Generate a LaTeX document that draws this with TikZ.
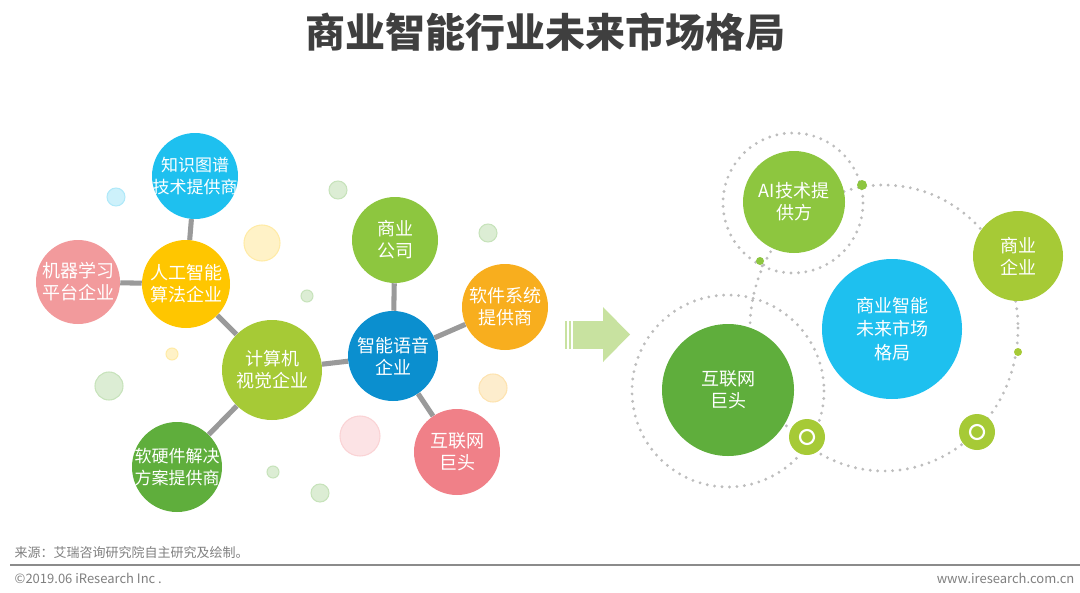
\documentclass[tikz,border=0pt]{standalone}
\usepackage{fontspec}
\setmainfont{Noto Sans CJK SC}
\definecolor{skyC}{HTML}{1EC0EF}
\definecolor{blueC}{HTML}{0B8FCF}
\definecolor{goldC}{HTML}{FFC600}
\definecolor{orangeC}{HTML}{F8AE1E}
\definecolor{pinkC}{HTML}{F29A9C}
\definecolor{redC}{HTML}{F08088}
\definecolor{limeC}{HTML}{A6CA36}
\definecolor{leafC}{HTML}{8DC63F}
\definecolor{grassC}{HTML}{5FAE3C}
\definecolor{arrowC}{HTML}{C8E2A0}
\definecolor{titleC}{HTML}{3F3F3F}
\definecolor{noteC}{HTML}{7F7F7F}
\definecolor{linkC}{HTML}{9A9A9A}
\definecolor{dotC}{HTML}{BDBDBD}
\tikzset{
  bub/.style 2 args={circle,fill=#1,text=white,inner sep=-14pt,align=center,
    minimum size=#2,font=\fontsize{13.5}{16.5}\selectfont},
  small/.style={font=\fontsize{12.75}{16.5}\selectfont},
  link/.style={draw=linkC,line width=3.8pt},
  dots/.style={draw=dotC,line width=2.4pt,line cap=round,dash pattern=on 0pt off 5.6pt},
  fade/.style={fill=#1!22,draw=#1!35,line width=0.8pt},
  note/.style={text=noteC,font=\fontsize{9.75}{12}\selectfont},
}
\begin{document}
\begin{tikzpicture}[x=0.75pt,y=-0.75pt]
\useasboundingbox (0,0) rectangle (1080,592);
% title
\node[text=titleC,font=\fontsize{30}{34}\selectfont\bfseries] (title) at (545,32) {商业智能行业未来市场格局};
% faint bubbles
\path[fade=skyC] (116,197) circle (9);
\path[fade=goldC] (262,243) circle (18);
\path[fade=grassC] (338,190) circle (9);
\path[fade=grassC] (488,233) circle (9);
\path[fade=grassC] (307,296) circle (6);
\path[fade=goldC] (172,354) circle (6);
\path[fade=grassC] (109,386) circle (14);
\path[fade=redC] (360,436) circle (20);
\path[fade=orangeC] (493,388) circle (14);
\path[fade=grassC] (273,472) circle (6);
\path[fade=grassC] (320,493) circle (9);
% left network
\node[bub={skyC}{64.5pt},small] (kg) at (195,176) {知识图谱\\技术提供商};
\node[bub={goldC}{66pt}] (ai) at (186,284) {人工智能\\算法企业};
\node[bub={pinkC}{63pt}] (ml) at (78,282) {机器学习\\平台企业};
\node[bub={limeC}{75pt}] (cv) at (272,370) {计算机\\视觉企业};
\node[bub={grassC}{67.5pt},small] (hw) at (177,467) {软硬件解决\\方案提供商};
\node[bub={leafC}{64.5pt}] (biz) at (395,240) {商业\\公司};
\node[bub={blueC}{67.5pt}] (voice) at (393,356) {智能语音\\企业};
\node[bub={orangeC}{64.5pt}] (soft) at (505,307) {软件系统\\提供商};
\node[bub={redC}{64.5pt}] (net) at (457,452) {互联网\\巨头};
\draw[link] (kg) -- (ai);
\draw[link] (ml) -- (ai);
\draw[link] (ai) -- (cv);
\draw[link] (cv) -- (hw);
\draw[link] (cv) -- (voice);
\draw[link] (voice) -- (biz);
\draw[link] (voice) -- (soft);
\draw[link] (voice) -- (net);
% arrow
\fill[arrowC] (565,321) rectangle (567,349);
\fill[arrowC] (569,321) rectangle (571,349);
\fill[arrowC] (573,321) rectangle (603,349);
\fill[arrowC] (603,307) -- (630,334.5) -- (603,362) -- cycle;
% right picture
\draw[dots] (884,328) ellipse [x radius=134,y radius=143];
\draw[dots] (793,203) circle (70);
\draw[dots] (728,391) circle (96);
\node[bub={leafC}{76.5pt}] (tech) at (794,202) {AI技术提\\供方};
\node[bub={limeC}{67.5pt}] (corp) at (1018,256) {商业\\企业};
\node[bub={skyC}{105pt},font=\fontsize{13.5}{17.5}\selectfont] (core) at (892,329) {商业智能\\未来市场\\格局};
\node[bub={grassC}{99pt}] (giant) at (728,390) {互联网\\巨头};
\fill[leafC] (862,185) circle (5);
\fill[leafC] (760,261) circle (4);
\fill[limeC] (1018,352) circle (4);
\foreach \rx/\ry [count=\i] in {807/437,977/432}{
  \fill[limeC] (\rx,\ry) circle (18);
  \draw[white,line width=1.6pt] (\rx,\ry) circle (7);
}
% footer
\node[note,anchor=west] (src) at (10,553) {来源：艾瑞咨询研究院自主研究及绘制。};
\draw[draw=linkC!90!black,line width=1.5pt] (10,565) -- (1080,565);
\node[note,anchor=west] (copy) at (10,578) {©2019.06 iResearch Inc .};
\node[note,anchor=east] (site) at (1079,578) {www.iresearch.com.cn};
\end{tikzpicture}
\end{document}
